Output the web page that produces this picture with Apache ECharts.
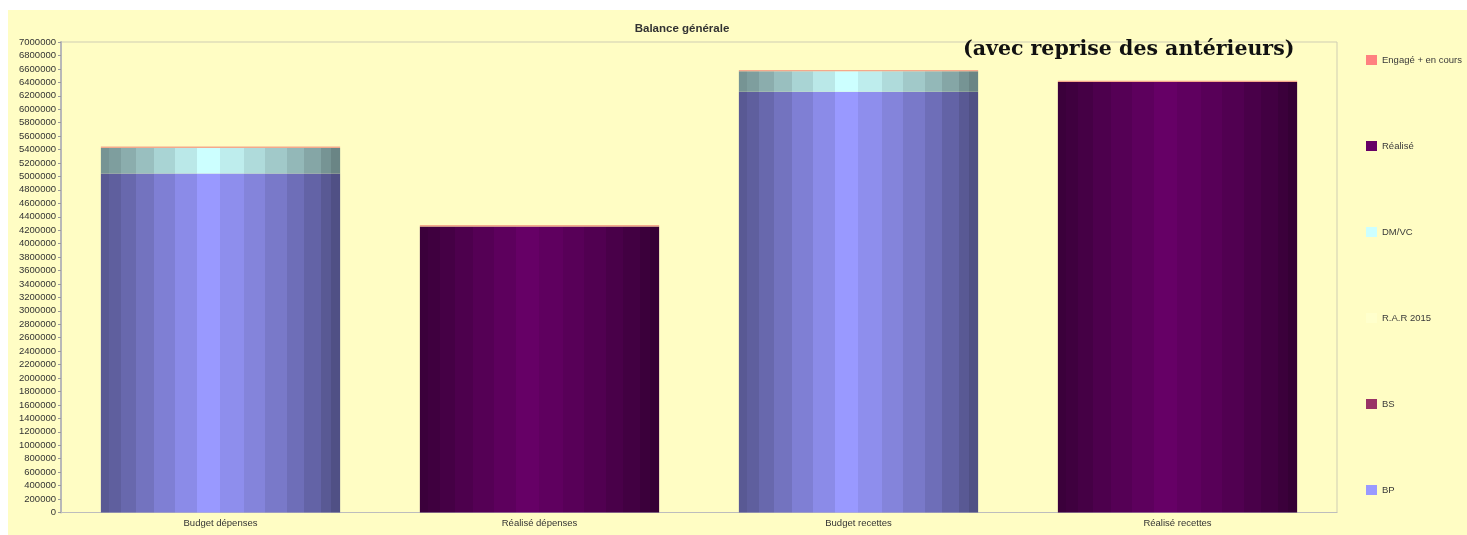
<!DOCTYPE html>
<html><head><meta charset="utf-8">
<script src="https://cdn.jsdelivr.net/npm/echarts@6/dist/echarts.min.js"></script>
<style>
html,body{margin:0;padding:0;background:#ffffff;width:1467px;height:535px;overflow:hidden;}
#c{position:absolute;left:8px;top:10px;width:1459px;height:525px;}
</style></head>
<body><div id="c"></div>
<script>
const categories = ['Budget dépenses', 'Réalisé dépenses', 'Budget recettes', 'Réalisé recettes'];
const seriesNames = ['BP', 'BS', 'R.A.R 2015', 'DM/VC', 'Réalisé', 'Engagé + en cours'];
const bpValues = [5043000, 0, 6260000, 0];
const bsValues = [0, 0, 0, 0];
const rarValues = [0, 0, 0, 0];
const dmvcValues = [381000, 0, 304000, 0];
const realiseValues = [0, 4256000, 0, 6405000];
const engageValues = [20000, 20000, 20000, 20000];
const yTickMax = 7000000;
const yTickStep = 200000;

const baseColors = ['#9999FF', '#993366', '#FFFFCC', '#CCFFFF', '#660066', '#FF8080'];
const bandFactors = [0.58,0.62,0.68,0.75,0.83,0.91,1.0,0.93,0.86,0.79,0.72,0.65,0.58,0.52];
const bandEdges = [0,0.035,0.085,0.148,0.224,0.309,0.400,0.498,0.597,0.687,0.778,0.848,0.918,0.960,1];

function shade(hex, f){
  const r=parseInt(hex.slice(1,3),16), g=parseInt(hex.slice(3,5),16), b=parseInt(hex.slice(5,7),16);
  return 'rgb('+Math.round(r*f)+','+Math.round(g*f)+','+Math.round(b*f)+')';
}
function cylinder(hex){
  const stops=[];
  for(let i=0;i<bandFactors.length;i++){
    const c=shade(hex,bandFactors[i]);
    stops.push({offset:bandEdges[i],color:c});
    stops.push({offset:bandEdges[i+1],color:c});
  }
  return {type:'linear',x:0,y:0,x2:1,y2:0,colorStops:stops};
}

const allValues = [bpValues, bsValues, rarValues, dmvcValues, realiseValues, engageValues];
const series = seriesNames.map((n,i)=>({
  name:n, type:'bar', stack:'total', data:allValues[i],
  barWidth:'75%',
  itemStyle:{color: i===5 ? '#F4A98C' : cylinder(baseColors[i])},
  emphasis:{disabled:true}
}));

const legendOrder = [5,4,3,2,1,0];
const chart = echarts.init(document.getElementById('c'), null, {renderer:'canvas'});
chart.setOption({
  backgroundColor:'#FFFDC4',
  animation:false,
  color: baseColors,
  title:{text:'Balance générale', left:677-8, top:8, textAlign:'center',
    textStyle:{fontSize:11.5, fontWeight:'bold', color:'#333333', fontFamily:'Liberation Sans, Arial'}},
  graphic:[{type:'text', left:963-8, top:29,
    style:{text:'(avec reprise des antérieurs)', font:'bold 20.5px "DejaVu Serif", serif', fill:'#111111'}}],
  legend:{
    orient:'vertical', left:1366-8, top:45, padding:0,
    data: legendOrder.map(i=>({name:seriesNames[i], itemStyle:{color:baseColors[i], borderWidth:0}})),
    itemWidth:11, itemHeight:10, itemGap:76, icon:'rect',
    textStyle:{fontSize:9.5, lineHeight:10, color:'#3a3a3a', fontFamily:'Liberation Sans, Arial'}
  },
  grid:{left:61-8, top:42-10, width:1276, height:470.5, show:true, borderColor:'#CFCDB3', borderWidth:1, backgroundColor:'#FFFDC4'},
  xAxis:{type:'category', data:categories,
    axisLine:{lineStyle:{color:'#BDBDBD'}},
    axisTick:{alignWithLabel:true, length:3, lineStyle:{color:'#999999'}},
    axisLabel:{fontSize:9.5, color:'#333333', fontFamily:'Liberation Sans, Arial', margin:6}},
  yAxis:{type:'value', min:0, max:yTickMax, interval:yTickStep,
    axisLine:{show:true, lineStyle:{color:'#B8B8B8', width:2}},
    axisTick:{show:true, length:3, lineStyle:{color:'#999999'}},
    splitLine:{show:false},
    axisLabel:{fontSize:9.5, color:'#333333', fontFamily:'Liberation Sans, Arial', margin:5,
      formatter:(v)=>String(v)}},
  series:series
});
</script></body></html>
